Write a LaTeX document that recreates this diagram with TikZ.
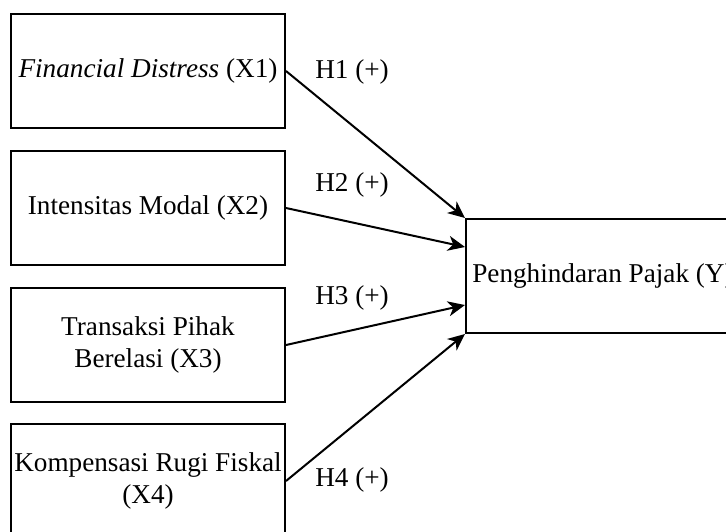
\documentclass[tikz,border=0pt]{standalone}
\usepackage{fontspec}
\setmainfont{Liberation Serif}
\usetikzlibrary{arrows.meta,calc}
\begin{document}
\begin{tikzpicture}[x=1pt,y=-1pt,
  var/.style={draw, line width=2pt, minimum width=274pt, minimum height=114pt,
    inner sep=0pt, align=center, font=\fontsize{27.2}{32}\selectfont},
  link/.style={line width=2pt, -{Stealth[length=17pt,width=15pt,inset=5pt]}},
  hyp/.style={font=\fontsize{27.2}{32}\selectfont, inner sep=0pt}]
\useasboundingbox (0,0) rectangle (726,531);
\clip (0,0) rectangle (726,531);

% independent variables
\node[var] (x1) at (148,71)  {\textit{Financial Distress} (X1)};
\node[var] (x2) at (148,208) {Intensitas Modal (X2)};
\node[var] (x3) at (148,345) {Transaksi Pihak\\Berelasi (X3)};
\node[var] (x4) at (148,481) {Kompensasi Rugi Fiskal\\(X4)};

% dependent variable
\node[var] (y) at (603,276) {Penghindaran Pajak (Y)};

% entry points on the left side of Y
\coordinate (p1) at (y.north west);
\coordinate (p2) at ($(y.north west)!0.25!(y.south west)$);
\coordinate (p3) at ($(y.north west)!0.75!(y.south west)$);
\coordinate (p4) at (y.south west);

% hypothesis arrows
\draw[link] (x1.east) -- (p1);
\draw[link] (x2.east) -- (p2);
\draw[link] (x3.east) -- (p3);
\draw[link] (x4.east) -- (p4);

% hypothesis labels
\node[hyp] (h1) at (352,72)  {H1 (+)};
\node[hyp] (h2) at (352,185) {H2 (+)};
\node[hyp] (h3) at (352,298) {H3 (+)};
\node[hyp] (h4) at (352,480) {H4 (+)};
\end{tikzpicture}
\end{document}
